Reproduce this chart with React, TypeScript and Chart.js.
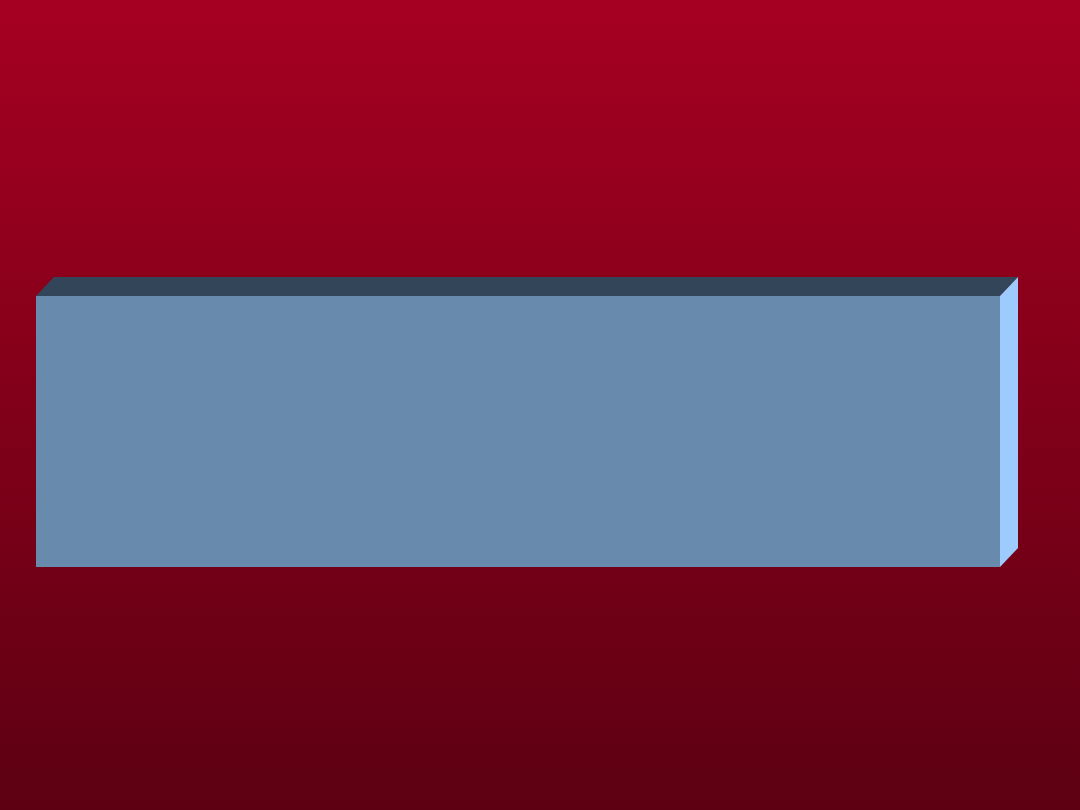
import React, { useEffect, useRef } from "react";
import { Chart, registerables } from "chart.js";

Chart.register(...registerables);

const categories: string[] = [""];
const seriesValues: number[] = [100];
const axisMin = 0;
const axisMax = 100;

const FRONT = "#688BAD";
const TOP = "#334659";
const SIDE = "#9DCBFE";
const BG_TOP = "#A60021";
const BG_BOTTOM = "#5D0012";
const DEPTH_X = 18;
const DEPTH_Y = 19;

const bgPlugin = {
  id: "bgGradient",
  beforeDraw(chart: any) {
    const { ctx, width, height } = chart;
    const g = ctx.createLinearGradient(0, 0, 0, height);
    g.addColorStop(0, BG_TOP);
    g.addColorStop(1, BG_BOTTOM);
    ctx.save();
    ctx.fillStyle = g;
    ctx.fillRect(0, 0, width, height);
    ctx.restore();
  },
};

const box3dPlugin = {
  id: "box3d",
  afterDatasetsDraw(chart: any) {
    const { ctx } = chart;
    const meta = chart.getDatasetMeta(0);
    meta.data.forEach((bar: any) => {
      const { x, y, base, height } = bar.getProps(["x", "y", "base", "height"], true);
      const top = y - height / 2;
      const bottom = y + height / 2;
      const left = Math.min(base, x);
      const right = Math.max(base, x);
      ctx.save();
      ctx.fillStyle = TOP;
      ctx.beginPath();
      ctx.moveTo(left, top);
      ctx.lineTo(left + DEPTH_X, top - DEPTH_Y);
      ctx.lineTo(right + DEPTH_X, top - DEPTH_Y);
      ctx.lineTo(right, top);
      ctx.closePath();
      ctx.fill();
      ctx.fillStyle = SIDE;
      ctx.beginPath();
      ctx.moveTo(right, top);
      ctx.lineTo(right + DEPTH_X, top - DEPTH_Y);
      ctx.lineTo(right + DEPTH_X, bottom - DEPTH_Y);
      ctx.lineTo(right, bottom);
      ctx.closePath();
      ctx.fill();
      ctx.restore();
    });
  },
};

export default function App() {
  const ref = useRef<HTMLCanvasElement | null>(null);

  useEffect(() => {
    if (!ref.current) return;
    const chart = new Chart(ref.current, {
      type: "bar",
      data: {
        labels: categories,
        datasets: [
          {
            data: seriesValues,
            backgroundColor: FRONT,
            borderWidth: 0,
            barPercentage: 1,
            categoryPercentage: 1,
          },
        ],
      },
      options: {
        indexAxis: "y",
        animation: false,
        responsive: false,
        maintainAspectRatio: false,
        layout: { padding: { left: 36, right: 80, top: 296, bottom: 243 } },
        plugins: {
          legend: { display: false },
          tooltip: { enabled: false },
          title: { display: false },
        },
        scales: {
          x: { min: axisMin, max: axisMax, display: false },
          y: { display: false },
        },
      },
      plugins: [bgPlugin, box3dPlugin],
    });
    return () => chart.destroy();
  }, []);

  return (
    <div style={{ position: "absolute", left: 0, top: 0, width: 1080, height: 810 }}>
      <canvas ref={ref} width={1080} height={810} style={{ display: "block", width: 1080, height: 810 }} />
    </div>
  );
}
